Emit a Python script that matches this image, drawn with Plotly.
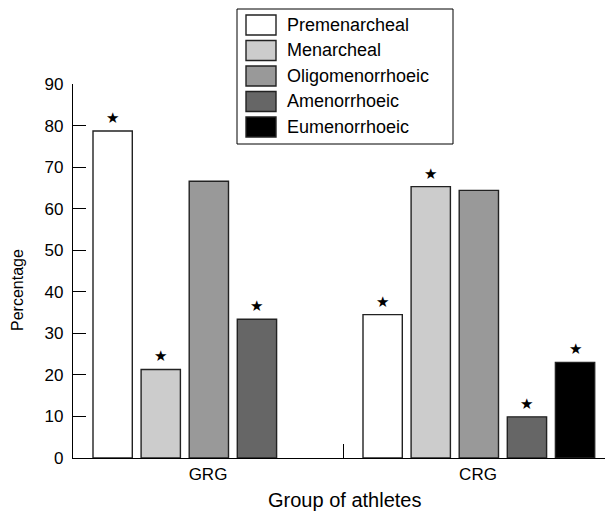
import plotly.graph_objects as go

# ---- data ----
groups = ["GRG", "CRG"]
series_names = ["Premenarcheal", "Menarcheal", "Oligomenorrhoeic", "Amenorrhoeic", "Eumenorrhoeic"]
premenarcheal = [78.7, 34.5]
menarcheal = [21.3, 65.3]
oligomenorrhoeic = [66.6, 64.4]
amenorrhoeic = [33.4, 9.9]
eumenorrhoeic = [None, 23.0]
# significance stars (per group)
star_premenarcheal = [True, True]
star_menarcheal = [True, True]
star_oligomenorrhoeic = [False, False]
star_amenorrhoeic = [True, True]
star_eumenorrhoeic = [False, True]
y_ticks = [0, 10, 20, 30, 40, 50, 60, 70, 80, 90]

series_values = [premenarcheal, menarcheal, oligomenorrhoeic, amenorrhoeic, eumenorrhoeic]
series_stars = [star_premenarcheal, star_menarcheal, star_oligomenorrhoeic,
                star_amenorrhoeic, star_eumenorrhoeic]
colors = ["#ffffff", "#cccccc", "#999999", "#666666", "#000000"]

FONT = "Liberation Sans"

# ---- geometry (styling); page body has an 8px margin ----
OFF = 8
W, H = 613 - OFF, 513 - OFF
L, R, T, B = 73 - OFF, 0, 84 - OFF, 55
PW, PH = W - L - R, H - T - B
unit_px = PW / 2.0            # x range [-0.5, 1.5]
bar_w = 39.3 / unit_px
step = 48.1 / unit_px
lead = 20.0 / unit_px

xpos = list(range(len(groups)))

fig = go.Figure()
annotations = []
for i, (name, vals, stars, col) in enumerate(zip(series_names, series_values, series_stars, colors)):
    off = -0.5 + lead + i * step
    fig.add_trace(go.Bar(
        x=xpos, y=vals, name=name, width=bar_w, offset=off,
        marker=dict(color=col, line=dict(color="#222222", width=1.4)),
        showlegend=False,
    ))
    for gx, v, s in zip(xpos, vals, stars):
        if s and v is not None:
            annotations.append(dict(
                x=gx + off + bar_w / 2, y=v, xref="x", yref="y",
                text="★", showarrow=False, yanchor="middle", yshift=13,
                font=dict(family="DejaVu Sans", size=15, color="black"),
            ))

# ---- manual legend (positions in screen pixels of the reference) ----
def xp(px):
    return (px - OFF - L) / PW

def yp(py):
    return (T + PH - (py - OFF)) / PH

shapes = [dict(type="rect", xref="paper", yref="paper",
               x0=xp(237), x1=xp(453), y0=yp(144), y1=yp(9),
               line=dict(color="black", width=1), fillcolor="white", layer="above")]
for i, (name, col) in enumerate(zip(series_names, colors)):
    top = 15 + i * 25.5
    shapes.append(dict(type="rect", xref="paper", yref="paper",
                       x0=xp(246), x1=xp(276), y0=yp(top + 20), y1=yp(top),
                       line=dict(color="#222222", width=1.4), fillcolor=col, layer="above"))
    annotations.append(dict(x=xp(285), y=yp(top + 10), xref="paper", yref="paper",
                            text=name, showarrow=False, xanchor="left", yanchor="middle",
                            font=dict(family=FONT, size=18, color="black")))

# axis titles
annotations.append(dict(x=xp(344), y=yp(500), xref="paper", yref="paper",
                        text="Group of athletes", showarrow=False,
                        xanchor="center", yanchor="middle",
                        font=dict(family=FONT, size=20, color="black")))
annotations.append(dict(x=xp(17), y=yp(290), xref="paper", yref="paper",
                        text="Percentage", showarrow=False, textangle=-90,
                        xanchor="center", yanchor="middle",
                        font=dict(family=FONT, size=16, color="black")))

fig.update_layout(
    width=W, height=H,
    margin=dict(l=L, r=R, t=T, b=B, pad=0),
    paper_bgcolor="white", plot_bgcolor="white",
    barmode="overlay",
    font=dict(family=FONT, size=16, color="black"),
    shapes=shapes, annotations=annotations,
    xaxis=dict(range=[-0.5, 1.5], tickmode="array", tickvals=xpos, ticktext=groups,
               showline=True, linecolor="black", linewidth=1.3, ticks="",
               showgrid=False, zeroline=False, ticklabelstandoff=0,
               tickfont=dict(family=FONT, size=17),
               minor=dict(tickmode="array", tickvals=[0.5], ticks="inside",
                          ticklen=14, tickcolor="black", tickwidth=1)),
    yaxis=dict(range=[0, 90], tickmode="array", tickvals=y_ticks,
               showline=True, linecolor="black", linewidth=1.3,
               ticks="inside", ticklen=13, tickcolor="black", tickwidth=1,
               showgrid=False, zeroline=False, ticklabelstandoff=5,
               tickfont=dict(family=FONT, size=17)),
)

fig.write_html("out.html")
